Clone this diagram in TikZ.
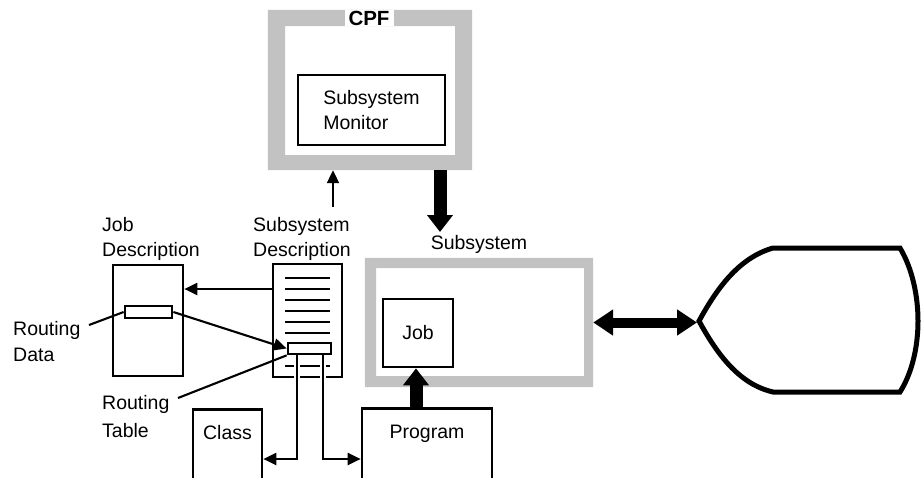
\documentclass[tikz,border=0pt]{standalone}
\usepackage{fontspec}
\setmainfont{Liberation Sans}
\usetikzlibrary{arrows.meta}
\definecolor{framegray}{gray}{0.76}
\begin{document}
\begin{tikzpicture}[x=1pt,y=-1pt,
  every node/.style={font=\fontsize{19.5}{25}\selectfont, inner sep=0pt},
  box/.style={draw, line width=2.7pt},
  thinline/.style={line width=2.1pt},
  arr/.style={line width=2.1pt, -{Triangle[length=13pt,width=12pt]}},
  bigarr/.style={line width=13pt, -{Triangle[length=17pt,width=25pt]}},
  dblarr/.style={line width=10pt, {Triangle[length=20pt,width=25pt]}-{Triangle[length=20pt,width=25pt]}},
  lbl/.style={align=left, anchor=west},
  halo/.style={draw=white, line width=6pt},
  frame/.style={fill=framegray, even odd rule},
]
\useasboundingbox (0,0) rectangle (921,477);

% CPF frame
\node[minimum width=204pt, minimum height=160pt] (cpf) at (370,90) {};
\fill[frame] (cpf.north west) rectangle (cpf.south east) (285,26) rectangle (455,155);
\node[font=\fontsize{20.5}{25}\selectfont\bfseries, fill=white, inner xsep=4pt, minimum height=16pt] (cpflabel) at (369,18) {CPF};
\node[box, minimum width=147pt, minimum height=70pt, align=left] (mon) at (371.5,110) {Subsystem\\Monitor};

% Subsystem frame
\node[minimum width=228pt, minimum height=129pt] (ss) at (479,322.5) {};
\fill[frame] (ss.north west) rectangle (ss.south east) (376,268) rectangle (584,376);
\node (sslabel) at (479,244) {Subsystem};
\node[box, minimum width=70pt, minimum height=68pt] (job) at (418,333) {Job};

% Program and Class
\node[box, anchor=north, minimum width=130pt, text height=15pt, text depth=42pt, inner ysep=15pt] (prog) at (427,407) {Program};
\node[box, anchor=north, minimum width=69pt, text height=15pt, text depth=42pt, inner ysep=15pt] (cls) at (227.5,408) {Class};

% Job Description
\node[lbl] (jdlabel) at (102,239) {Job\\Description};
\node[box, minimum width=70pt, minimum height=111pt] (jd) at (148,320.5) {};
\node[box, fill=white, minimum width=47pt, minimum height=12pt] (rd) at (148.5,312) {};

% Subsystem Description
\node[lbl] (sdlabel) at (253,239) {Subsystem\\Description};
\node[box, minimum width=69pt, minimum height=113pt] (sd) at (307.5,320.5) {};
\foreach \yy in {278,289,300,311,322,333,366}
  \draw[thinline] (285,\yy) -- (330,\yy);
\node[box, fill=white, minimum width=43pt, minimum height=11pt] (rt) at (309.5,348.5) {};

% Routing labels
\node[lbl, font=\fontsize{19.5}{26}\selectfont] (rdlabel) at (13,341.5) {Routing\\Data};
\node[lbl, font=\fontsize{19.5}{28}\selectfont] (rtlabel) at (102,417) {Routing\\Table};
\coordinate (rdl) at (89,325);
\coordinate (rtl) at (178,398);
\draw[thinline] (rdl) -- (rd.west);
\draw[thinline] (rtl) -- (rt.south west);

% connectors from Subsystem Description
\draw[arr] ([yshift=31.5pt]sd.west) -- ([yshift=31.5pt]jd.east);
\draw[arr] (rd.east) -- (rt.west);
\coordinate (lv) at (297,459);
\coordinate (rv) at (323,459);
\draw[halo] (297,359) -- (297,386);
\draw[halo] (323,359) -- (323,386);
\draw[arr] (rt.south -| lv) -- (lv) -- (cls.east |- lv);
\draw[arr] (rt.south -| rv) -- (rv) -- (prog.west |- rv);

% up arrow to CPF
\coordinate (up) at (333,207);
\draw[arr] (up) -- (cpf.south -| up);

% thick arrows
\coordinate (dn) at (440,232);
\draw[bigarr] (cpf.south -| dn) -- (dn);
\draw[bigarr] (prog.north -| 416,0) -- (job.south -| 416,0);

% display shape
\coordinate (disp) at (697,322.5);
\draw[line width=5pt, line join=miter]
  (699,321) .. controls (716,290) and (738,258) .. (773,248)
  -- (900,248) .. controls (912,268) and (918,295) .. (918,321)
  .. controls (918,347) and (912,373) .. (900,392)
  -- (773,392) .. controls (738,384) and (716,352) .. (699,321) -- cycle;
\draw[dblarr] (ss.east) -- (disp);
\end{tikzpicture}
\end{document}
